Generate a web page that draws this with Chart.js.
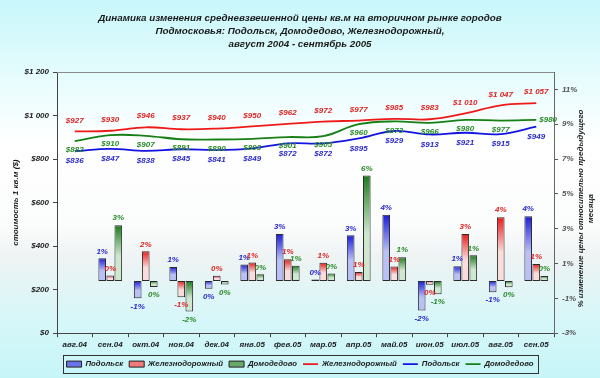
<!DOCTYPE html>
<html><head><meta charset="utf-8">
<script src="https://cdn.jsdelivr.net/npm/chart.js@4/dist/chart.umd.min.js"></script>
<style>html,body{margin:0;padding:0;background:#fff}#wrap{width:600px;height:378px;position:relative}canvas{display:block}</style>
</head><body><div id="wrap"><canvas id="c" width="600" height="378" style="width:600px;height:378px"></canvas></div>
<script>
const months = ['авг.04','сен.04','окт.04','ноя.04','дек.04','янв.05','фев.05','мар.05','апр.05','май.05','июн.05','июл.05','авг.05','сен.05'];
const podolskPrice = [836,847,838,845,841,849,872,872,895,929,913,921,915,949];
const zhelPrice    = [927,930,946,937,940,950,962,972,977,985,983,1010,1047,1057];
const domodPrice   = [882,910,907,891,890,893,901,905,960,973,966,980,977,980];
const podolskChange = [null,1.3,-1.0,0.8,-0.45,0.95,2.7,0.08,2.62,3.8,-1.7,0.85,-0.65,3.72];
const zhelChange    = [null,0.32,1.7,-0.93,0.3,1.06,1.25,1.04,0.51,0.83,-0.22,2.7,3.66,0.98];
const domodChange   = [null,3.2,-0.34,-1.76,-0.2,0.38,0.88,0.43,6.06,1.36,-0.76,1.47,-0.36,0.29];
const podolskChangeLabels = ['','1%','-1%','1%','0%','1%','3%','0%','3%','4%','-2%','1%','-1%','4%'];
const zhelChangeLabels    = ['','0%','2%','-1%','0%','1%','1%','1%','1%','1%','0%','3%','4%','1%'];
const domodChangeLabels   = ['','3%','0%','-2%','0%','0%','1%','0%','6%','1%','-1%','1%','0%','0%'];
const priceTicks = [0,200,400,600,800,1000,1200];
const pctTicks = [-3,-1,1,3,5,7,9,11];
const titleLines = ['Динамика изменения средневзвешенной цены кв.м на вторичном рынке городов','Подмосковья: Подольск, Домодедово, Железнодорожный,','август 2004 - сентябрь 2005'];
const leftTitle = 'стоимость 1 кв.м ($)';
const rightTitle = ['% изменение цены относительно предыдущего','месяца'];

const C = {
  blue:'#1c1cd8', blueLight:'#b8c0f6', blueText:'#2a2ad0',
  red:'#e81c1c', redLight:'#fbdcdc', redText:'#e02424',
  green:'#1d7a1d', greenLight:'#cfe6cf', greenText:'#2a8a2a'
};
const FONT = '"Liberation Sans", Arial, sans-serif';

function fmtPrice(v){
  if (v >= 1000) { const r = v % 1000; return '$' + Math.floor(v/1000) + ' ' + String(r).padStart(3,'0'); }
  return '$' + v;
}
function barGrad(dark, light){
  return (ctx) => {
    const chart = ctx.chart; const s = chart.scales && chart.scales.y2;
    if (!s || ctx.type !== 'data' || ctx.raw == null) return dark;
    const p0 = s.getPixelForValue(0), p1 = s.getPixelForValue(ctx.raw);
    const top = Math.min(p0,p1), bot = Math.max(p0,p1) + 0.01;
    if (!isFinite(top) || !isFinite(bot)) return dark;
    const g = chart.ctx.createLinearGradient(0, top, 0, bot);
    g.addColorStop(0, dark); g.addColorStop(0.55, light); g.addColorStop(1, light);
    return g;
  };
}

const bgPlugin = {
  id:'bg',
  beforeDraw(chart){
    const {ctx, width, height} = chart;
    ctx.save();
    const g = ctx.createLinearGradient(0,0,0,height);
    g.addColorStop(0,'#c8f7fb');
    g.addColorStop(0.2,'#e6fcfd');
    g.addColorStop(0.38,'#ffffff');
    g.addColorStop(0.6,'#fbfcfc');
    g.addColorStop(0.68,'#eef3f3');
    g.addColorStop(0.85,'#d6f7f9');
    g.addColorStop(1,'#c6f5f8');
    ctx.fillStyle = g; ctx.fillRect(0,0,width,height);
    ctx.restore();
  }
};

const textPlugin = {
  id:'texts',
  afterDraw(chart){
    const ctx = chart.ctx; const a = chart.chartArea;
    ctx.save();
    ctx.strokeStyle = '#8a8a8a'; ctx.lineWidth = 1;
    ctx.beginPath(); ctx.moveTo(a.left, a.top + 0.5); ctx.lineTo(a.right, a.top + 0.5); ctx.stroke();
    ctx.fillStyle = '#1a1a1a'; ctx.textAlign = 'center'; ctx.textBaseline = 'middle';
    ctx.font = 'italic bold 9.8px ' + FONT;
    titleLines.forEach((t,i) => ctx.fillText(t, 300, 18 + i*13));
    ctx.font = 'italic bold 8px ' + FONT;
    ctx.save(); ctx.translate(16, (a.top + a.bottom)/2); ctx.rotate(-Math.PI/2);
    ctx.fillText(leftTitle, 0, 0); ctx.restore();
    ctx.save(); ctx.translate(581, (a.top + a.bottom)/2 + 6); ctx.rotate(-Math.PI/2);
    ctx.fillText(rightTitle[0], 0, 0); ctx.fillText(rightTitle[1], 0, 10); ctx.restore();
    const lg = chart.legend;
    if (lg && lg.legendHitBoxes && lg.legendHitBoxes.length){
      const hb = lg.legendHitBoxes;
      let l = Infinity, r = -Infinity, t = Infinity, b = -Infinity;
      hb.forEach(h => { l = Math.min(l,h.left); r = Math.max(r,h.left+h.width); t = Math.min(t,h.top); b = Math.max(b,h.top+h.height); });
      ctx.strokeStyle = '#333'; ctx.lineWidth = 1;
      ctx.strokeRect(Math.round(l-4)+0.5, Math.round(t-5)+0.5, Math.round(r-l+8), Math.round(b-t+10));
    }
    ctx.restore();
  },
  afterDatasetsDraw(chart){
    const ctx = chart.ctx;
    ctx.save();
    ctx.font = 'italic bold 8px ' + FONT; ctx.textAlign = 'center'; ctx.textBaseline = 'middle';
    chart.data.datasets.forEach((ds, i) => {
      const meta = chart.getDatasetMeta(i);
      meta.data.forEach((el, j) => {
        const v = ds.data[j]; if (v == null) return;
        ctx.fillStyle = ds.textColor;
        if (ds.type === 'bar') {
          const txt = ds.pctLabels[j];
          const y = v >= 0 ? el.y - 7 : el.y + 8;
          ctx.fillText(txt, el.x, y);
        } else {
          const txt = fmtPrice(v);
          if (ds.lastRight && j === ds.data.length - 1) { ctx.textAlign = 'left'; ctx.fillText(txt, el.x + 3, el.y); ctx.textAlign = 'center'; return; }
          ctx.fillText(txt, el.x, el.y + ds.labelOffset);
        }
      });
    });
    ctx.restore();
  }
};

const barCommon = { type:'bar', yAxisID:'y2', borderColor:'#2b2b2b', borderWidth:1, borderSkipped:false, barPercentage:0.95, categoryPercentage:0.68, order:2 };
const lineCommon = { type:'line', yAxisID:'y', borderWidth:1.8, pointRadius:0, tension:0.4, fill:false, order:1 };

new Chart(document.getElementById('c'), {
  data: {
    labels: months,
    datasets: [
      Object.assign({}, barCommon, { label:'Подольск', data:podolskChange, backgroundColor:barGrad(C.blue, C.blueLight), pctLabels:podolskChangeLabels, textColor:C.blueText, legendColor:'#6a72ea' }),
      Object.assign({}, barCommon, { label:'Железнодорожный', data:zhelChange, backgroundColor:barGrad(C.red, C.redLight), pctLabels:zhelChangeLabels, textColor:C.redText, legendColor:'#f07a7a' }),
      Object.assign({}, barCommon, { label:'Домодедово', data:domodChange, backgroundColor:barGrad(C.green, C.greenLight), pctLabels:domodChangeLabels, textColor:C.greenText, legendColor:'#6aa86a' }),
      Object.assign({}, lineCommon, { label:'Железнодорожный', data:zhelPrice, borderColor:'#ee1a1a', textColor:C.redText, labelOffset:-11 }),
      Object.assign({}, lineCommon, { label:'Подольск', data:podolskPrice, borderColor:'#1414e0', textColor:C.blueText, labelOffset:10 }),
      Object.assign({}, lineCommon, { label:'Домодедово', data:domodPrice, borderColor:'#168016', textColor:C.greenText, labelOffset:9, lastRight:true })
    ]
  },
  options: {
    responsive:false, animation:false, maintainAspectRatio:false,
    layout:{ padding:{ top:72, left:0, right:0, bottom:0 } },
    plugins:{
      title:{display:false}, tooltip:{enabled:false},
      legend:{
        position:'bottom',
        labels:{
          usePointStyle:true, pointStyleWidth:15, boxHeight:6, padding:6,
          font:{ family:FONT, size:7.8, style:'italic', weight:'bold' }, color:'#1a1a1a',
          generateLabels(chart){
            return chart.data.datasets.map((ds,i) => ({
              text: ds.label,
              fillStyle: ds.type === 'bar' ? ds.legendColor : ds.borderColor,
              strokeStyle: ds.type === 'bar' ? '#222' : ds.borderColor,
              lineWidth: ds.type === 'bar' ? 1 : 1.8,
              pointStyle: ds.type === 'bar' ? 'rect' : 'line',
              fontColor:'#1a1a1a',
              hidden:false, datasetIndex:i
            }));
          }
        }
      }
    },
    scales:{
      x:{
        offset:true,
        grid:{ display:true, offset:true, drawOnChartArea:false, tickLength:4, color:'#444' },
        border:{ display:true, color:'#444', width:1 },
        ticks:{ font:{ family:FONT, size:8, style:'italic', weight:'bold' }, color:'#1a1a1a', padding:3, maxRotation:0, autoSkip:false },
        afterFit(s){ s.height = 21; }
      },
      y:{
        position:'left', min:0, max:1200,
        afterBuildTicks(s){ s.ticks = priceTicks.map(v => ({value:v})); },
        grid:{ display:true, drawOnChartArea:false, tickLength:4, color:'#444' },
        border:{ display:true, color:'#444', width:1 },
        ticks:{ font:{ family:FONT, size:8, style:'italic', weight:'bold' }, color:'#1a1a1a', padding:4, callback:(v) => fmtPrice(v) },
        afterFit(s){ s.width = 57; }
      },
      y2:{
        position:'right', min:-3, max:12,
        afterBuildTicks(s){ s.ticks = pctTicks.map(v => ({value:v})); },
        grid:{ display:true, drawOnChartArea:false, tickLength:4, color:'#555' },
        border:{ display:true, color:'#666', width:1 },
        ticks:{ font:{ family:FONT, size:8, style:'italic', weight:'bold' }, color:'#555', padding:4, callback:(v) => v + '%' },
        afterFit(s){ s.width = 46; }
      }
    }
  },
  plugins:[bgPlugin, textPlugin]
});
</script></body></html>
